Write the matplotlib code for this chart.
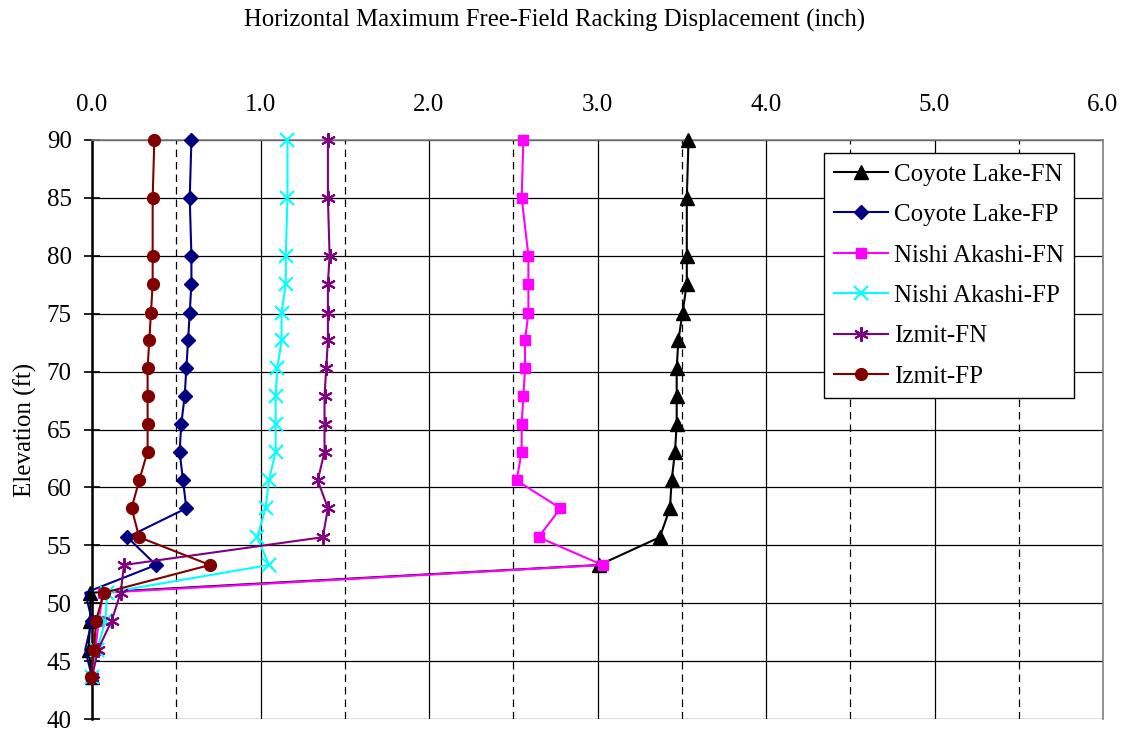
import matplotlib
matplotlib.use("Agg")
import matplotlib.pyplot as plt
import numpy as np
from matplotlib.ticker import MultipleLocator, FormatStrFormatter
from matplotlib.lines import Line2D

elevation = [90, 85, 80, 77.6, 75.1, 72.7, 70.3, 67.9, 65.5, 63.1, 60.6, 58.2, 55.7, 53.3, 50.9, 48.5, 46.0, 43.6]

coyote_fn = [3.54, 3.53, 3.53, 3.53, 3.505, 3.48, 3.47, 3.47, 3.47, 3.46, 3.44, 3.43, 3.37, 3.01, -0.01, -0.01, -0.02, 0.0]
coyote_fp = [0.59, 0.58, 0.59, 0.59, 0.58, 0.57, 0.56, 0.55, 0.53, 0.52, 0.54, 0.56, 0.21, 0.38, -0.04, 0.0, -0.04, 0.0]
nishi_fn = [2.56, 2.55, 2.59, 2.59, 2.59, 2.57, 2.57, 2.56, 2.55, 2.55, 2.52, 2.78, 2.65, 3.03, 0.065, 0.04, 0.02, 0.0]
nishi_fp = [1.16, 1.16, 1.15, 1.15, 1.125, 1.125, 1.10, 1.09, 1.09, 1.09, 1.05, 1.03, 0.98, 1.05, 0.09, 0.08, 0.03, 0.0]
izmit_fn = [1.40, 1.40, 1.41, 1.40, 1.40, 1.40, 1.39, 1.38, 1.38, 1.38, 1.34, 1.40, 1.37, 0.19, 0.17, 0.117, 0.036, 0.0]
izmit_fp = [0.37, 0.36, 0.36, 0.36, 0.35, 0.34, 0.33, 0.33, 0.33, 0.33, 0.28, 0.235, 0.28, 0.70, 0.07, 0.024, 0.012, -0.005]

series_names = ["Coyote Lake-FN", "Coyote Lake-FP", "Nishi Akashi-FN",
                "Nishi Akashi-FP", "Izmit-FN", "Izmit-FP"]
series_values = [coyote_fn, coyote_fp, nishi_fn, nishi_fp, izmit_fn, izmit_fp]

title = "Horizontal Maximum Free-Field Racking Displacement (inch)"
ylabel = "Elevation (ft)"

colors = ["#000000", "#000080", "#FF00FF", "#00FFFF", "#800080", "#800000"]
markers = ["^", "D", "s", "x", (6, 2, 0), "o"]
msizes = [9.5, 7.5, 7.5, 9.5, 10.5, 8.5]
mew = [1, 1, 1, 1.5, 1.5, 1]

plt.rcParams["font.family"] = ["Liberation Serif", "DejaVu Serif"]
FS = 18

fig = plt.figure(figsize=(11.27, 7.33), dpi=100)
ax = fig.add_axes([92 / 1127, 1 - 719 / 733, (1103 - 92) / 1127, (719 - 140) / 733])

handles = []
for name, vals, c, m, ms, mw in zip(series_names, series_values, colors, markers, msizes, mew):
    arr = np.asarray(vals, dtype=float)
    # line may run slightly past the left axis; markers of points clearly off-scale are not drawn
    ax.plot(arr, elevation, color=c, linewidth=1.5, clip_on=False, zorder=3)
    mk = np.where(arr < -0.025, np.nan, arr)
    ax.plot(mk, elevation, color=c, linestyle="none", marker=m, markersize=ms,
            markeredgewidth=mw, markerfacecolor=c, markeredgecolor=c,
            clip_on=False, zorder=3)
    handles.append(Line2D([], [], color=c, linewidth=1.5, marker=m, markersize=ms,
                          markeredgewidth=mw, markerfacecolor=c, markeredgecolor=c,
                          label=name))

ax.set_xlim(0, 6)
ax.set_ylim(40, 90)
ax.xaxis.set_major_locator(MultipleLocator(1.0))
ax.xaxis.set_minor_locator(MultipleLocator(0.5))
ax.yaxis.set_major_locator(MultipleLocator(5))
ax.xaxis.set_major_formatter(FormatStrFormatter("%.1f"))
ax.xaxis.tick_top()
ax.xaxis.set_label_position("top")

ax.grid(which="major", axis="x", color="black", linewidth=0.9, linestyle="-", zorder=1)
ax.grid(which="minor", axis="x", color="black", linewidth=0.9, linestyle=(0, (6, 4)), zorder=1)
ax.grid(which="major", axis="y", color="black", linewidth=0.9, linestyle="-", zorder=1)
ax.set_axisbelow(True)

ax.tick_params(axis="x", which="both", length=0, pad=17, labelsize=FS)
ax.tick_params(axis="y", which="major", direction="inout", length=12, width=1.2,
               pad=8.5, labelsize=FS)

ax.spines["left"].set_linewidth(1.8)
ax.spines["bottom"].set_visible(False)
for s in ("top", "right"):
    ax.spines[s].set_color("#808080")
    ax.spines[s].set_linewidth(1.2)

ax.set_ylabel(ylabel, fontsize=FS, labelpad=7)
fig.text(555 / 1127, 1 - 20 / 733, title, ha="center", va="center", fontsize=17.8)

leg = ax.legend(handles=handles, loc="upper left", bbox_to_anchor=(824 / 1127, 1 - 153 / 733),
                bbox_transform=fig.transFigure, fontsize=FS, frameon=True,
                fancybox=False, edgecolor="black", framealpha=1,
                handlelength=2.16, labelspacing=0.72, borderpad=0.4,
                handletextpad=0.25, borderaxespad=0)
leg.get_frame().set_linewidth(1.0)

fig.savefig("out.png", dpi=100)
